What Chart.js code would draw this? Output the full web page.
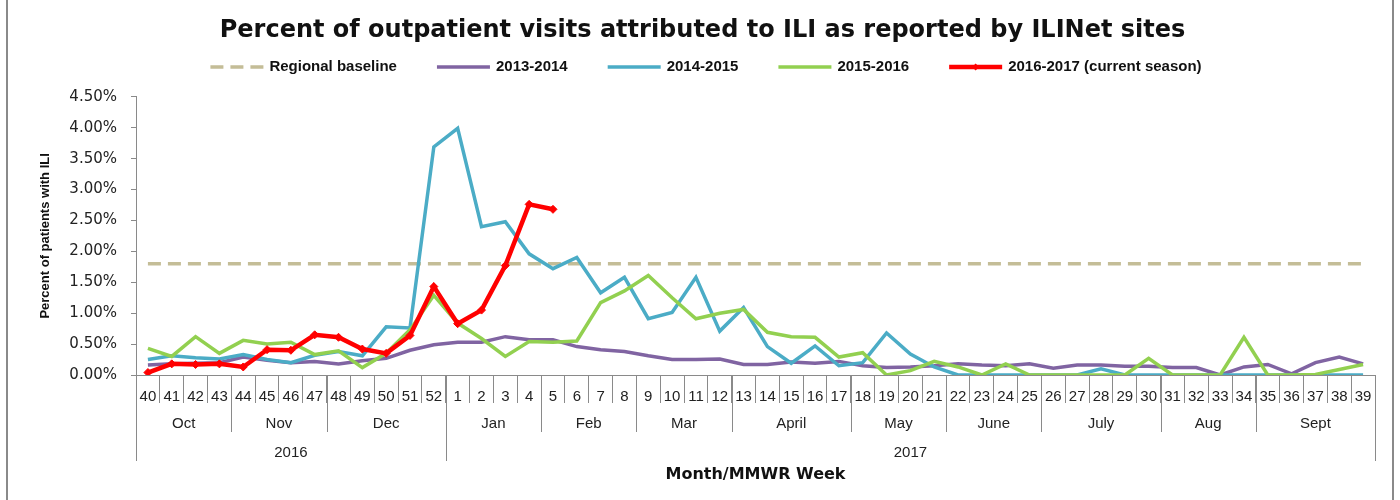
<!DOCTYPE html>
<html>
<head>
<meta charset="utf-8">
<script src="https://cdn.jsdelivr.net/npm/chart.js@4.4.1/dist/chart.umd.min.js"></script>
<style>
  html, body { margin: 0; padding: 0; background: #fff; }
  #wrap { width: 1400px; height: 500px; }
</style>
</head>
<body>
<div id="wrap"><canvas id="ili-chart" width="1400" height="500"></canvas></div>
<script>
// MMWR weeks, Oct 2016 - Sept 2017
var weeks = ['40','41','42','43','44','45','46','47','48','49','50','51','52',
  '1','2','3','4','5','6','7','8','9','10','11','12','13','14','15','16','17','18','19','20',
  '21','22','23','24','25','26','27','28','29','30','31','32','33','34','35','36','37','38','39'];

var months = ['Oct','Nov','Dec','Jan','Feb','Mar','April','May','June','July','Aug','Sept'];
var monthSpans = [4, 4, 5, 4, 4, 4, 5, 4, 4, 5, 4, 5];
var years = ['2016', '2017'];
var yearSpans = [13, 39];

var baseline = [1.8,1.8,1.8,1.8,1.8,1.8,1.8,1.8,1.8,1.8,1.8,1.8,1.8,
  1.8,1.8,1.8,1.8,1.8,1.8,1.8,1.8,1.8,1.8,1.8,1.8,1.8,1.8,1.8,1.8,1.8,1.8,1.8,1.8,
  1.8,1.8,1.8,1.8,1.8,1.8,1.8,1.8,1.8,1.8,1.8,1.8,1.8,1.8,1.8,1.8,1.8,1.8,1.8];
var season1314 = [0.16,0.18,0.19,0.20,0.29,0.24,0.20,0.22,0.18,0.23,0.27,0.40,0.49,
  0.53,0.53,0.62,0.57,0.57,0.46,0.41,0.38,0.31,0.25,0.25,0.26,0.17,0.17,0.21,0.19,0.22,0.15,0.12,0.13,
  0.15,0.18,0.16,0.15,0.18,0.11,0.16,0.16,0.14,0.14,0.12,0.12,0.00,0.13,0.17,0.02,0.20,0.29,0.18];
var season1415 = [0.25,0.31,0.28,0.26,0.33,0.25,0.20,0.32,0.38,0.31,0.78,0.76,3.69,
  3.99,2.40,2.48,1.96,1.72,1.90,1.33,1.58,0.91,1.01,1.58,0.71,1.09,0.46,0.19,0.47,0.15,0.20,0.68,0.34,
  0.13,0.00,0.00,0.00,0.00,0.00,0.00,0.10,0.00,0.00,0.00,0.00,0.00,0.00,0.00,0.00,0.00,0.00,0.00];
var season1516 = [0.43,0.30,0.62,0.35,0.56,0.50,0.53,0.33,0.39,0.12,0.35,0.73,1.29,
  0.84,0.59,0.30,0.54,0.53,0.55,1.17,1.36,1.61,1.25,0.91,1.00,1.06,0.69,0.62,0.61,0.29,0.36,0.00,0.07,
  0.22,0.13,0.00,0.18,0.00,0.00,0.00,0.00,0.00,0.27,0.00,0.00,0.00,0.61,0.00,0.00,0.01,0.09,0.17];
var season1617 = [0.04,0.18,0.17,0.18,0.13,0.41,0.40,0.65,0.61,0.42,0.35,0.64,1.43,
  0.83,1.05,1.77,2.76,2.68];

var yTicks = [0, 0.5, 1, 1.5, 2, 2.5, 3, 3.5, 4, 4.5];

var GRAY = '#8a8a8a';

// white background + frame lines at the sides
var frame = {
  id: 'frame',
  beforeDraw: function(chart) {
    var ctx = chart.ctx;
    ctx.save();
    ctx.fillStyle = '#fff';
    ctx.fillRect(0, 0, chart.width, chart.height);
    ctx.strokeStyle = GRAY;
    ctx.lineWidth = 2;
    ctx.beginPath();
    ctx.moveTo(7, 0); ctx.lineTo(7, chart.height);
    ctx.moveTo(1393, 0); ctx.lineTo(1393, chart.height);
    ctx.stroke();
    ctx.restore();
  }
};

// legend row: line swatch + label, drawn from the datasets
var lineLegend = {
  id: 'lineLegend',
  afterDraw: function(chart) {
    var ctx = chart.ctx, sw = 53, gapText = 6, gapItem = 40, y = 67;
    ctx.save();
    ctx.font = 'bold 15px "Liberation Sans", Arial, sans-serif';
    ctx.textBaseline = 'middle';
    ctx.textAlign = 'left';
    var sets = chart.data.datasets;
    var total = 0;
    sets.forEach(function(ds, i) {
      total += sw + gapText + ctx.measureText(ds.label).width + (i < sets.length - 1 ? gapItem : 0);
    });
    var x = 706 - total / 2;
    sets.forEach(function(ds) {
      ctx.strokeStyle = ds.borderColor;
      ctx.lineWidth = ds.borderWidth;
      ctx.setLineDash(ds.borderDash || []);
      ctx.beginPath();
      ctx.moveTo(x, y); ctx.lineTo(x + sw, y);
      ctx.stroke();
      ctx.setLineDash([]);
      if (ds.pointRadius) {
        var cx = x + sw / 2, r = 3.5;
        ctx.fillStyle = ds.borderColor;
        ctx.beginPath();
        ctx.moveTo(cx, y - r); ctx.lineTo(cx + r, y); ctx.lineTo(cx, y + r); ctx.lineTo(cx - r, y);
        ctx.closePath();
        ctx.fill();
      }
      x += sw + gapText;
      ctx.fillStyle = '#111';
      ctx.fillText(ds.label, x, y);
      x += ctx.measureText(ds.label).width + gapItem;
    });
    ctx.restore();
  }
};

// month and year rows under the week labels
var groupRows = {
  id: 'groupRows',
  afterDraw: function(chart) {
    var x = chart.scales.x, ctx = chart.ctx;
    var top = chart.chartArea.bottom;
    var half = (x.getPixelForValue(1) - x.getPixelForValue(0)) / 2;
    function row(labels, spans, lineBottom, textY) {
      var start = 0;
      ctx.save();
      ctx.strokeStyle = GRAY;
      ctx.lineWidth = 1;
      ctx.fillStyle = '#222';
      ctx.font = '15px "Liberation Sans", Arial, sans-serif';
      ctx.textAlign = 'center';
      ctx.textBaseline = 'middle';
      labels.forEach(function(lbl, i) {
        var left = x.getPixelForValue(start) - half;
        var right = x.getPixelForValue(start + spans[i] - 1) + half;
        ctx.beginPath();
        ctx.moveTo(Math.round(left) + 0.5, top);
        ctx.lineTo(Math.round(left) + 0.5, lineBottom);
        ctx.moveTo(Math.round(right) + 0.5, top);
        ctx.lineTo(Math.round(right) + 0.5, lineBottom);
        ctx.stroke();
        ctx.fillText(lbl, (left + right) / 2, textY);
        start += spans[i];
      });
      ctx.restore();
    }
    row(months, monthSpans, top + 57, top + 49);
    row(years, yearSpans, top + 86, top + 78);
  }
};

var ctx = document.getElementById('ili-chart').getContext('2d');
new Chart(ctx, {
  type: 'line',
  data: {
    labels: weeks,
    datasets: [
      { label: 'Regional baseline', data: baseline, borderColor: '#c4bd97', backgroundColor: '#c4bd97',
        borderWidth: 3.5, borderDash: [13, 7], pointRadius: 0, order: 4 },
      { label: '2013-2014', data: season1314, borderColor: '#8064a2', backgroundColor: '#8064a2',
        borderWidth: 3.5, pointRadius: 0, order: 3 },
      { label: '2014-2015', data: season1415, borderColor: '#4bacc6', backgroundColor: '#4bacc6',
        borderWidth: 3.5, pointRadius: 0, order: 2 },
      { label: '2015-2016', data: season1516, borderColor: '#92d050', backgroundColor: '#92d050',
        borderWidth: 3.5, pointRadius: 0, order: 1 },
      { label: '2016-2017 (current season)', data: season1617, borderColor: '#ff0000', backgroundColor: '#ff0000',
        borderWidth: 4.5, pointRadius: 4, pointStyle: 'rectRot', pointBorderWidth: 1, order: 0 }
    ]
  },
  options: {
    responsive: false,
    animation: false,
    layout: { padding: { top: 0, left: 30, right: 25, bottom: 0 } },
    elements: { line: { tension: 0, borderCapStyle: 'butt', borderJoinStyle: 'miter' } },
    plugins: {
      title: {
        display: true,
        text: 'Percent of outpatient visits attributed to ILI as reported by ILINet sites',
        color: '#111',
        font: { family: '"DejaVu Sans", Verdana, sans-serif', size: 24, weight: 'bold' },
        padding: { top: 16, bottom: 52 }
      },
      legend: { display: false },
      tooltip: { enabled: false }
    },
    scales: {
      x: {
        offset: true,
        afterFit: function(scale) { scale.height = 125; },
        grid: { display: true, offset: true, drawOnChartArea: false, drawTicks: true, tickLength: 28, color: GRAY },
        border: { display: true, color: GRAY, width: 1 },
        ticks: { autoSkip: false, maxRotation: 0, padding: -15, color: '#222',
          font: { family: '"Liberation Sans", Arial, sans-serif', size: 15 } },
        title: { display: true, text: 'Month/MMWR Week', color: '#111',
          font: { family: '"DejaVu Sans", Verdana, sans-serif', size: 16, weight: 'bold' },
          padding: { top: 0, bottom: 16 } }
      },
      y: {
        min: 0,
        max: 4.5,
        afterFit: function(scale) { scale.width = 106; },
        afterBuildTicks: function(scale) { scale.ticks = yTicks.map(function(v) { return { value: v }; }); },
        grid: { display: true, drawOnChartArea: false, drawTicks: true, tickLength: 5, color: GRAY },
        border: { display: true, color: GRAY, width: 1 },
        ticks: { padding: 14, color: '#222',
          font: { family: '"DejaVu Sans", Verdana, sans-serif', size: 15 },
          callback: function(v) { return Number(v).toFixed(2) + '%'; } },
        title: { display: true, text: 'Percent of patients with ILI', color: '#111',
          font: { family: '"Liberation Sans", Arial, sans-serif', size: 13, weight: 'bold' },
          padding: { top: 8, bottom: 0 } }
      }
    }
  },
  plugins: [frame, groupRows, lineLegend]
});
</script>
</body>
</html>
